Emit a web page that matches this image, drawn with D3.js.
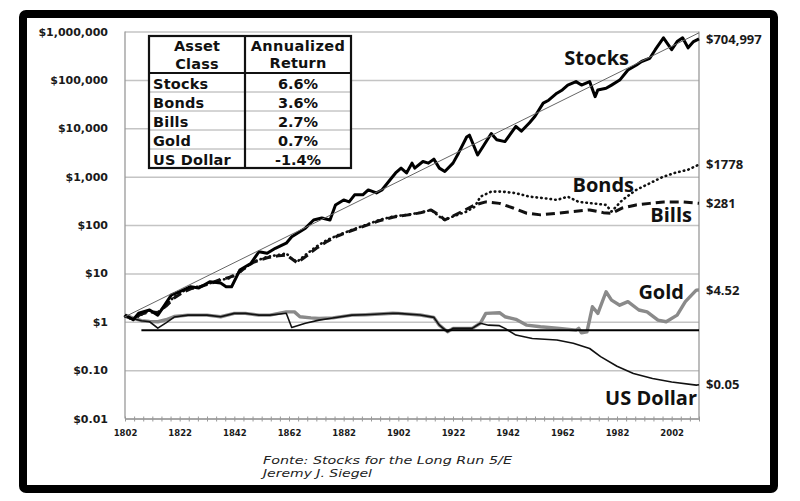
<!DOCTYPE html>
<html>
<head>
<meta charset="utf-8">
<script src="https://cdn.jsdelivr.net/npm/d3@7"></script>
<style>
  body { margin: 0; background: #fff; }
  svg { display: block; }
</style>
</head>
<body>
<div id="my_chart"></div>
<script>
// ---- data (real $1 invested in 1802) ----
var stockYears = [1802,1805,1807,1811,1814,1816,1819,1822,1826,1829,1833,1837,1839,1841,1844,1848,1851,1854,1857,1861,1863,1868,1871,1874,1877,1879,1882,1884,1886,1889,1891,1894,1896,1899,1901,1903,1905,1907,1908,1911,1913,1915,1917,1919,1922,1924,1927,1928,1931,1933,1936,1938,1941,1945,1947,1950,1952,1955,1957,1960,1962,1964,1967,1969,1972,1974,1975,1978,1980,1983,1986,1989,1991,1994,1996,1999,2002,2004,2006,2008,2010,2012];
var stockValues = [1.38,1.1,1.5,1.75,1.37,2.0,3.6,4.2,5.3,5.0,6.7,6.3,5.3,5.3,11.7,16,28,26,33,42,57,86,127,140,127,260,330,300,420,420,530,460,530,860,1190,1500,1190,1900,1500,2050,1900,2300,1500,1280,1900,3050,6600,7200,2800,4200,7800,5800,5300,10900,8700,13000,17700,33000,38000,53000,62000,78000,92000,78000,92000,45000,62000,67000,78000,99000,160000,200000,240000,280000,420000,740000,420000,620000,740000,460000,620000,704997];

var bondYears = [1802,1805,1808,1811,1814,1817,1820,1823,1826,1830,1834,1837,1840,1843,1846,1849,1854,1858,1861,1863,1865,1868,1872,1876,1880,1885,1890,1895,1900,1905,1910,1914,1917,1919,1922,1927,1930,1932,1936,1940,1945,1950,1955,1960,1964,1968,1973,1978,1980,1984,1989,1994,1999,2003,2008,2012];
var bondValues = [1.3,1.1,1.4,1.7,1.5,2.2,3.3,4.2,5.0,5.5,6.5,7.3,7.9,9.5,13,17.4,22,24,26,20,17.4,24,36,49,62,79,100,127,150,162,180,205,150,127,150,190,240,385,490,490,455,385,360,330,385,300,280,260,190,330,530,730,1000,1190,1390,1778];

var billYears = [1802,1805,1808,1811,1814,1817,1820,1823,1826,1830,1834,1837,1840,1843,1846,1849,1854,1858,1861,1863,1865,1868,1872,1876,1880,1885,1890,1895,1900,1905,1910,1914,1917,1919,1924,1930,1934,1939,1944,1949,1954,1960,1966,1972,1977,1980,1984,1989,1994,1999,2006,2012];
var billValues = [1.3,1.15,1.45,1.6,1.55,2.1,3.1,4.0,4.8,5.4,6.4,7.5,8.2,9.8,13,17,21,23,24,20,16.5,22,33,46,60,77,97,122,145,160,178,205,160,127,175,260,300,280,225,175,162,175,190,205,180,175,225,260,280,300,300,281];

var goldYears = [1802,1805,1808,1811,1814,1817,1820,1825,1832,1837,1842,1846,1851,1855,1861,1864,1866,1870,1873,1878,1885,1890,1895,1900,1902,1910,1915,1917,1920,1922,1929,1932,1934,1939,1941,1945,1949,1954,1961,1967,1968,1969,1971,1973,1975,1978,1980,1983,1986,1990,1993,1997,2000,2004,2007,2011,2012];
var goldValues = [1.37,1.19,1.05,1.02,1.0,1.1,1.28,1.37,1.37,1.27,1.49,1.49,1.37,1.37,1.6,1.6,1.27,1.2,1.17,1.2,1.37,1.4,1.45,1.5,1.49,1.38,1.23,0.85,0.62,0.73,0.73,0.93,1.49,1.54,1.27,1.12,0.85,0.79,0.73,0.67,0.73,0.59,0.62,2.04,1.49,4.17,2.8,2.2,2.6,1.75,1.6,1.08,1.0,1.37,2.6,4.5,4.52];

var dollarYears = [1802,1805,1808,1811,1814,1817,1820,1825,1832,1837,1842,1846,1851,1855,1861,1863,1868,1873,1878,1885,1890,1895,1900,1902,1910,1915,1917,1920,1922,1929,1932,1935,1939,1941,1945,1951,1960,1966,1972,1976,1982,1988,1995,2002,2011,2012];
var dollarValues = [1.37,1.15,1.05,1.0,0.74,0.95,1.25,1.37,1.37,1.27,1.49,1.49,1.37,1.37,1.5,0.76,0.93,1.08,1.2,1.37,1.4,1.45,1.5,1.49,1.38,1.23,0.85,0.62,0.73,0.73,0.93,0.85,0.83,0.73,0.53,0.45,0.42,0.36,0.28,0.19,0.12,0.085,0.067,0.057,0.049,0.05];

var trendYears = [1802, 2012];
var trendValues = [1.27, 940000];
var parYears = [1808, 2012];
var parValues = [0.67, 0.67];

var yTicks = [1e6, 1e5, 1e4, 1e3, 100, 10, 1, 0.1, 0.01];
var yTickLabels = ["$1,000,000","$100,000","$10,000","$1,000","$100","$10","$1","$0.10","$0.01"];
var xTickLabels = [1802,1822,1842,1862,1882,1902,1922,1942,1962,1982,2002];

var tableAssets = ["Stocks","Bonds","Bills","Gold","US Dollar"];
var tableReturns = ["6.6%","3.6%","2.7%","0.7%","-1.4%"];
var endLabels = ["$704,997","$1778","$281","$4.52","$0.05"];

// ---- layout ----
var W = 800, H = 501;
var plot = {left: 125, right: 699, top: 31.5, bottom: 418.5};

var svg = d3.select("#my_chart")
  .append("svg")
    .attr("width", W)
    .attr("height", H);

svg.append("rect").attr("width", W).attr("height", H).attr("fill", "#fff");

var x = d3.scaleLinear().domain([1802, 2012]).range([plot.left, plot.right]);
var y = d3.scaleLog().domain([0.01, 1e6]).range([plot.bottom, plot.top]);

// gridlines
svg.append("g")
  .attr("transform", "translate(" + plot.left + ",0)")
  .call(d3.axisLeft(y).tickValues(yTicks).tickSize(-(plot.right - plot.left)).tickFormat(""))
  .call(function(g) { g.select(".domain").remove(); })
  .selectAll("line").attr("stroke", "#c4c4c4").attr("stroke-width", 1.5);

// y labels
svg.append("g")
  .attr("transform", "translate(" + (plot.left - 17) + ",0)")
  .call(d3.axisLeft(y).tickValues(yTicks).tickSize(0)
    .tickFormat(function(d, i) { return yTickLabels[i]; }))
  .call(function(g) { g.select(".domain").remove(); })
  .selectAll("text")
    .attr("x", 0)
    .style("font-family", "DejaVu Sans")
    .style("font-weight", "bold")
    .style("font-size", "11px")
    .attr("fill", "#1a1a1a");

// left + right frame of plot
svg.append("line").attr("x1", plot.left).attr("x2", plot.left)
  .attr("y1", plot.top).attr("y2", plot.bottom).attr("stroke", "#999").attr("stroke-width", 1.3);
svg.append("line").attr("x1", plot.right).attr("x2", plot.right)
  .attr("y1", plot.top).attr("y2", plot.bottom).attr("stroke", "#999").attr("stroke-width", 1.3);

// x axis: minor ticks then labels
svg.append("g")
  .attr("transform", "translate(0," + plot.bottom + ")")
  .call(d3.axisBottom(x).tickValues(d3.range(0, 210.1, 10 / 3).map(function(d) { return 1802 + d; }))
    .tickSizeInner(3).tickSizeOuter(0).tickFormat(""))
  .call(function(g) {
    g.select(".domain").attr("stroke", "#999").attr("stroke-width", 1.3);
    g.selectAll("line").attr("stroke", "#999").attr("y1", -2);
  });

svg.append("g")
  .attr("transform", "translate(0," + plot.bottom + ")")
  .call(d3.axisBottom(x).tickValues(xTickLabels).tickSize(0).tickPadding(11).tickFormat(d3.format("d")))
  .call(function(g) { g.select(".domain").remove(); })
  .selectAll("text")
    .style("font-family", "DejaVu Sans")
    .style("font-weight", "bold")
    .style("font-size", "8.5px")
    .attr("fill", "#1a1a1a");

// ---- lines ----
function series(years, values) {
  return years.map(function(yr, i) { return {year: yr, value: values[i]}; });
}
var line = d3.line()
  .x(function(d) { return x(d.year); })
  .y(function(d) { return y(d.value); });

function drawLine(data, stroke, width, dash, cap) {
  svg.append("path")
    .datum(data)
    .attr("fill", "none")
    .attr("stroke", stroke)
    .attr("stroke-width", width)
    .attr("stroke-dasharray", dash)
    .attr("stroke-linecap", cap || "butt")
    .attr("stroke-linejoin", "round")
    .attr("d", line);
}

drawLine(series(bondYears, bondValues), "#111", 2.6, "0.5,4.2", "round");
drawLine(series(billYears, billValues), "#111", 3, "9,5");
drawLine(series(goldYears, goldValues), "#8a8a8a", 3.4, null);
drawLine(series(dollarYears, dollarValues), "#111", 1.6, null);
drawLine(series(stockYears, stockValues), "#000", 3, null);
drawLine(series(trendYears, trendValues), "#666", 1, null);
drawLine(series(parYears, parValues), "#000", 2, null);

// ---- right end labels ----
var endValues = [stockValues[stockValues.length - 1], bondValues[bondValues.length - 1],
  billValues[billValues.length - 1], goldValues[goldValues.length - 1], dollarValues[dollarValues.length - 1]];
svg.append("g").selectAll("text")
  .data(endLabels)
  .enter()
  .append("text")
    .attr("x", plot.right + 7)
    .attr("y", function(d, i) { return y(endValues[i]); })
    .attr("dy", "0.36em")
    .style("font-family", "Open Sans")
    .style("font-weight", "bold")
    .style("font-size", "13px")
    .attr("fill", "#1a1a1a")
    .text(function(d) { return d; });

// series names
var nameLabels = [
  {t: "Stocks", x: 629, y: 65},
  {t: "Bonds", x: 634, y: 192},
  {t: "Bills", x: 692, y: 222},
  {t: "Gold", x: 684, y: 299},
  {t: "US Dollar", x: 697, y: 405}
];
svg.append("g").selectAll("text")
  .data(nameLabels)
  .enter()
  .append("text")
    .attr("x", function(d) { return d.x; })
    .attr("y", function(d) { return d.y; })
    .attr("text-anchor", "end")
    .style("font-family", "Open Sans")
    .style("font-weight", "bold")
    .style("font-size", "20px")
    .attr("fill", "#111")
    .text(function(d) { return d.t; });

// ---- table ----
var tb = {x: 149, y: 36, w: 202, col: 96, head: 37, row: 19};
var table = svg.append("g").style("font-family", "DejaVu Sans").style("font-weight", "bold")
  .style("font-size", "14.5px").attr("fill", "#111");
table.append("rect")
  .attr("x", tb.x).attr("y", tb.y)
  .attr("width", tb.w).attr("height", tb.head + tb.row * tableAssets.length)
  .attr("fill", "#fff");
table.selectAll("line.rowsep")
  .data(d3.range(1, tableAssets.length))
  .enter().append("line")
    .attr("x1", tb.x).attr("x2", tb.x + tb.w)
    .attr("y1", function(d) { return tb.y + tb.head + d * tb.row; })
    .attr("y2", function(d) { return tb.y + tb.head + d * tb.row; })
    .attr("stroke", "#aaa").attr("stroke-width", 1);
table.append("line")
  .attr("x1", tb.x).attr("x2", tb.x + tb.w)
  .attr("y1", tb.y + tb.head).attr("y2", tb.y + tb.head)
  .attr("stroke", "#111").attr("stroke-width", 2.2);
table.append("line")
  .attr("x1", tb.x + tb.col).attr("x2", tb.x + tb.col)
  .attr("y1", tb.y).attr("y2", tb.y + tb.head + tb.row * tableAssets.length)
  .attr("stroke", "#111").attr("stroke-width", 2.2);
table.append("rect")
  .attr("x", tb.x).attr("y", tb.y)
  .attr("width", tb.w).attr("height", tb.head + tb.row * tableAssets.length)
  .attr("fill", "none").attr("stroke", "#111").attr("stroke-width", 2.2);

var c1 = tb.x + tb.col / 2, c2 = tb.x + tb.col + (tb.w - tb.col) / 2;
[["Asset", c1, 51], ["Class", c1, 68.5], ["Annualized", c2, 50.5], ["Return", c2, 68]].forEach(function(h) {
  table.append("text").attr("x", h[1]).attr("y", h[2]).attr("text-anchor", "middle")
    .style("letter-spacing", h[0] == "Annualized" ? "0.4px" : "0.2px").text(h[0]);
});
table.selectAll("text.asset")
  .data(tableAssets)
  .enter().append("text")
    .attr("x", tb.x + 4)
    .attr("y", function(d, i) { return tb.y + tb.head + i * tb.row + 16; })
    .style("letter-spacing", "0.2px")
    .text(function(d) { return d; });
table.selectAll("text.ret")
  .data(tableReturns)
  .enter().append("text")
    .attr("x", c2)
    .attr("y", function(d, i) { return tb.y + tb.head + i * tb.row + 16; })
    .attr("text-anchor", "middle")
    .text(function(d) { return d; });

// ---- source ----
svg.append("text")
  .attr("x", 263).attr("y", 464)
  .attr("textLength", 249).attr("lengthAdjust", "spacingAndGlyphs")
  .style("font-family", "DejaVu Sans").style("font-style", "italic").style("font-size", "11px")
  .attr("fill", "#222")
  .text("Fonte: Stocks for the Long Run 5/E");
svg.append("text")
  .attr("x", 263).attr("y", 476.5)
  .attr("textLength", 109).attr("lengthAdjust", "spacingAndGlyphs")
  .style("font-family", "DejaVu Sans").style("font-style", "italic").style("font-size", "11px")
  .attr("fill", "#222")
  .text("Jeremy J. Siegel");

// ---- thick outer frame ----
svg.append("rect")
  .attr("x", 23).attr("y", 14)
  .attr("width", 751).attr("height", 475)
  .attr("rx", 3)
  .attr("fill", "none")
  .attr("stroke", "#000")
  .attr("stroke-width", 8);
</script>
</body>
</html>
